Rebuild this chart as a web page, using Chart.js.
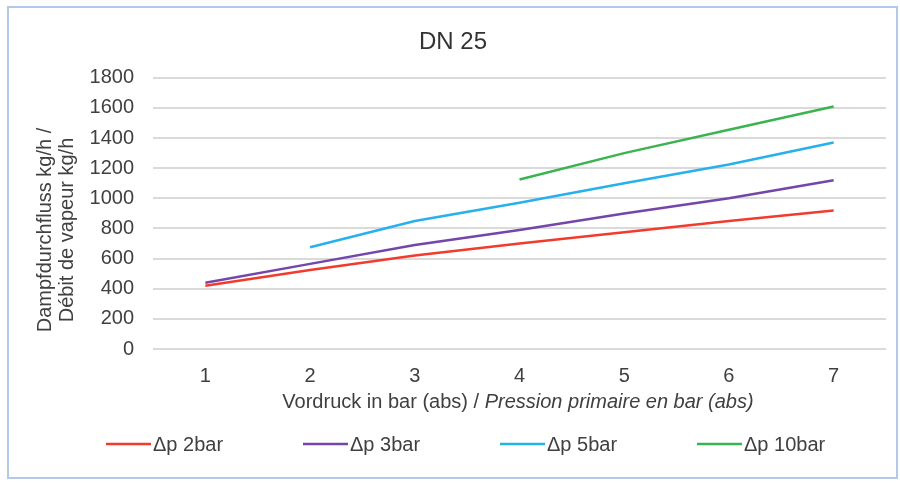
<!DOCTYPE html>
<html><head><meta charset="utf-8">
<script src="https://cdn.jsdelivr.net/npm/chart.js@4"></script>
<style>html,body{margin:0;padding:0;background:#fff}#wrap{position:relative;width:900px;height:486px}</style>
</head><body><div id="wrap"><canvas id="c" width="900" height="486"></canvas></div>
<script>
const chartTitle = 'DN 25';
const pressures = ['1', '2', '3', '4', '5', '6', '7'];
const dp2 = [420, 525, 620, 700, 775, 850, 920];
const dp3 = [440, 565, 690, 790, 900, 1000, 1120];
const dp5 = [null, 675, 850, 970, 1100, 1225, 1370];
const dp10 = [null, null, null, 1125, 1300, 1455, 1610];
const seriesLabels = ['Δp 2bar', 'Δp 3bar', 'Δp 5bar', 'Δp 10bar'];
const seriesColors = ['#f23b2d', '#7445aa', '#26b0ec', '#3bb44f'];
const yTitle = ['Dampfdurchfluss kg/h /', 'Débit de vapeur kg/h'];
const xTitleNormal = 'Vordruck in bar (abs) / ';
const xTitleItalic = 'Pression primaire en bar (abs)';

const FONT = '"Liberation Sans", Arial, sans-serif';
const TEXT = '#404040';

const frame = {
  id: 'frame',
  beforeDraw(chart) {
    const ctx = chart.ctx;
    ctx.save();
    ctx.fillStyle = '#fff';
    ctx.fillRect(0, 0, chart.width, chart.height);
    ctx.strokeStyle = '#b4c8e8';
    ctx.lineWidth = 2;
    ctx.strokeRect(8, 7, 889, 471);
    ctx.restore();
  }
};

const axisTitles = {
  id: 'axisTitles',
  afterDraw(chart, args, opts) {
    const ctx = chart.ctx;
    ctx.save();
    ctx.fillStyle = TEXT;
    ctx.textBaseline = 'middle';
    // x title (mixed upright / italic)
    ctx.font = '20px ' + FONT;
    const w1 = ctx.measureText(xTitleNormal).width;
    ctx.font = 'italic 20px ' + FONT;
    const w2 = ctx.measureText(xTitleItalic).width;
    const x0 = opts.xCenter - (w1 + w2) / 2;
    ctx.font = '20px ' + FONT;
    ctx.fillText(xTitleNormal, x0, opts.xTitleY);
    ctx.font = 'italic 20px ' + FONT;
    ctx.fillText(xTitleItalic, x0 + w1, opts.xTitleY);
    // y title (two rotated lines)
    ctx.font = '20px ' + FONT;
    ctx.textAlign = 'center';
    yTitle.forEach((t, i) => {
      ctx.save();
      ctx.translate(opts.yLineX[i], opts.yTitleY);
      ctx.rotate(-Math.PI / 2);
      ctx.fillText(t, 0, 0);
      ctx.restore();
    });
    ctx.restore();
  }
};

const lineLegend = {
  id: 'lineLegend',
  afterDraw(chart, args, opts) {
    const ctx = chart.ctx;
    ctx.save();
    ctx.font = '20px ' + FONT;
    ctx.textBaseline = 'middle';
    chart.data.datasets.forEach((ds, i) => {
      const x = opts.startX + i * opts.step;
      const y = opts.y;
      ctx.strokeStyle = ds.borderColor;
      ctx.lineWidth = 2.5;
      ctx.beginPath();
      ctx.moveTo(x, y);
      ctx.lineTo(x + 45, y);
      ctx.stroke();
      ctx.fillStyle = TEXT;
      ctx.fillText(ds.label, x + 47, y + 1);
    });
    ctx.restore();
  }
};

const series = [dp2, dp3, dp5, dp10];

new Chart(document.getElementById('c'), {
  type: 'line',
  data: {
    labels: pressures,
    datasets: series.map((d, i) => ({
      label: seriesLabels[i],
      data: d,
      borderColor: seriesColors[i],
      backgroundColor: seriesColors[i],
      borderWidth: 2.5,
      pointRadius: 0,
      tension: 0,
      spanGaps: false
    }))
  },
  options: {
    responsive: false,
    animation: false,
    devicePixelRatio: 1,
    layout: { padding: { left: 20, right: 14, top: 10, bottom: 10 } },
    plugins: {
      legend: { display: false },
      tooltip: { enabled: false },
      title: {
        display: true,
        text: chartTitle,
        color: '#333',
        font: { family: FONT, size: 24, weight: 'normal' },
        padding: { top: 18, bottom: 21 }
      },
      lineLegend: { startX: 106, step: 197, y: 444 },
      axisTitles: { xCenter: 518, xTitleY: 402, yLineX: [45, 67], yTitleY: 230 }
    },
    scales: {
      x: {
        offset: true,
        grid: { display: false },
        border: { display: false },
        ticks: { color: TEXT, font: { family: FONT, size: 20 }, padding: 7 },
        afterFit(s) { s.height = 127; }
      },
      y: {
        min: 0,
        max: 1800,
        ticks: {
          stepSize: 200, color: TEXT, font: { family: FONT, size: 20 }, padding: 19,
          callback: (v) => String(v)
        },
        grid: { color: '#dadada', lineWidth: 2, drawTicks: false },
        border: { display: false },
        title: { display: false },
        afterFit(s) { s.width = 133; }
      }
    }
  },
  plugins: [frame, axisTitles, lineLegend]
});
</script>
</body></html>
